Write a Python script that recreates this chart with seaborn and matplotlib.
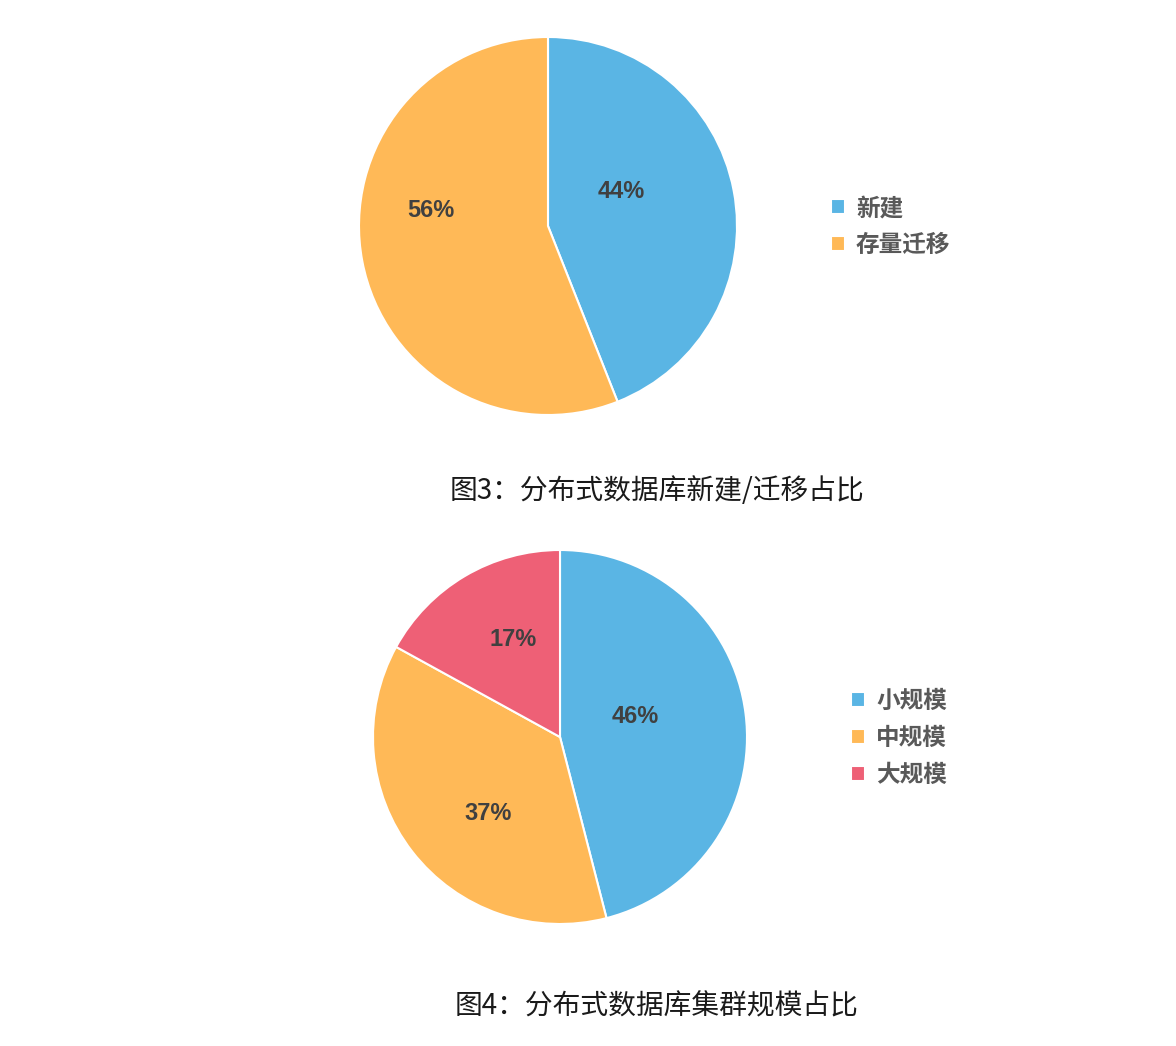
import matplotlib
matplotlib.use("Agg")
import matplotlib.pyplot as plt
import seaborn as sns

# ---- data ----
build_labels = ['新建', '存量迁移']
build_values = [44, 56]

scale_labels = ['小规模', '中规模', '大规模']
scale_values = [46, 37, 17]

caption3 = '图3：分布式数据库新建/迁移占比'
caption4 = '图4：分布式数据库集群规模占比'

sns.set_theme(style="white")
plt.rcParams['font.family'] = ['Noto Sans CJK SC', 'DejaVu Sans']

colors = sns.color_palette(['#5AB5E4', '#FFB957', '#EE6076'])

W, H = 1176, 1046
fig = plt.figure(figsize=(W / 100, H / 100), dpi=100)


def px_axes(cx, cy, r):
    return fig.add_axes([(cx - r) / W, 1 - (cy + r) / H, 2 * r / W, 2 * r / H])


# label positions in pie-radius units (hand placed, like the source)
label_pos_1 = [(0.39, 0.18), (-0.62, 0.08)]
label_pos_2 = [(0.40, 0.11), (-0.385, -0.41), (-0.25, 0.52)]


def draw_pie(ax, values, labels, label_pos, legend_xy):
    wedges, _ = ax.pie(values, colors=colors[:len(values)], startangle=90,
                       counterclock=False,
                       wedgeprops=dict(edgecolor='white', linewidth=1.5))
    for v, (x, y) in zip(values, label_pos):
        ax.text(x, y, f'{v}%', ha='center', va='center', fontsize=17,
                fontweight='bold', color='#404040',
                family=['Liberation Sans', 'DejaVu Sans'])
    ax.set_xlim(-1, 1)
    ax.set_ylim(-1, 1)
    ax.set_aspect('equal')
    ax.axis('off')
    leg = fig.legend(wedges, labels, loc='upper left',
                     bbox_to_anchor=legend_xy, frameon=False,
                     prop=dict(size=17, weight='bold'),
                     handlelength=0.6, handleheight=0.6,
                     handletextpad=0.45, labelspacing=0.55)
    for t in leg.get_texts():
        t.set_color('#595959')


ax1 = px_axes(548, 226, 189)
draw_pie(ax1, build_values, build_labels, label_pos_1,
         (810 / W, 1 - 175 / H))

ax2 = px_axes(560, 737, 187)
draw_pie(ax2, scale_values, scale_labels, label_pos_2,
         (830 / W, 1 - 668 / H))

fig.text(657 / W, 1 - 491 / H, caption3, ha='center', va='center',
         fontsize=20, color='#1a1a1a')
fig.text(657 / W, 1 - 1006 / H, caption4, ha='center', va='center',
         fontsize=20, color='#1a1a1a')

fig.savefig('out.png', dpi=100, facecolor='white')
